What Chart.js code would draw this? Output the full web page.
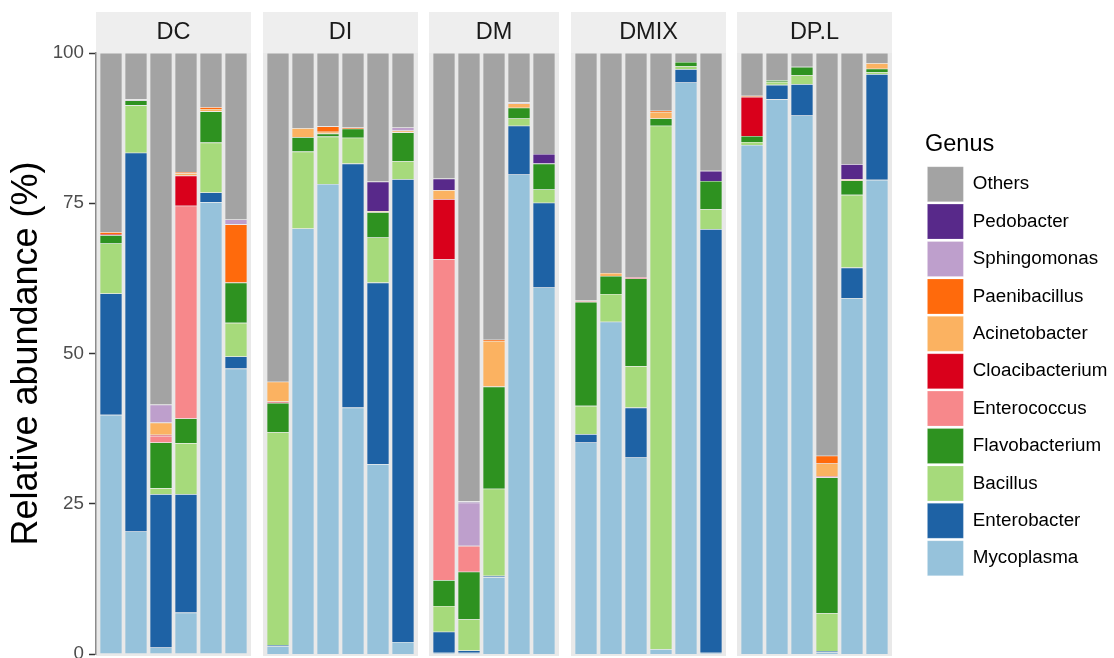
<!DOCTYPE html>
<html>
<head>
<meta charset="utf-8">
<title>Relative abundance by genus</title>
<script src="https://cdn.jsdelivr.net/npm/chart.js@4.4.1/dist/chart.umd.min.js"></script>
<style>
  body { margin: 0; width: 1114px; height: 658px; overflow: hidden; background: #ffffff; position: relative; }
  .facet { position: absolute; top: 12px; }
  .facet canvas { display: block; }
</style>
</head>
<body>
<div class="facet" style="left:0px"><canvas id="facet-DC" width="251" height="660" style="width:251px;height:660px"></canvas></div>
<div class="facet" style="left:263px"><canvas id="facet-DI" width="155" height="644" style="width:155px;height:644px"></canvas></div>
<div class="facet" style="left:429px"><canvas id="facet-DM" width="130" height="644" style="width:130px;height:644px"></canvas></div>
<div class="facet" style="left:571px"><canvas id="facet-DMIX" width="155" height="644" style="width:155px;height:644px"></canvas></div>
<div class="facet" style="left:737px"><canvas id="facet-DP.L" width="376" height="644" style="width:376px;height:644px"></canvas></div>

<script>
// Facets and samples
const facetNames = ['DC', 'DI', 'DM', 'DMIX', 'DP.L'];
const sampleNames = [
  'DC1', 'DC2', 'DC3', 'DC4', 'DC5', 'DC6',
  'DI1', 'DI2', 'DI3', 'DI4', 'DI5', 'DI6',
  'DM1', 'DM2', 'DM3', 'DM4', 'DM5',
  'DMIX1', 'DMIX2', 'DMIX3', 'DMIX4', 'DMIX5', 'DMIX6',
  'DPL1', 'DPL2', 'DPL3', 'DPL4', 'DPL5', 'DPL6'
];
const sampleFacet = [
  'DC', 'DC', 'DC', 'DC', 'DC', 'DC',
  'DI', 'DI', 'DI', 'DI', 'DI', 'DI',
  'DM', 'DM', 'DM', 'DM', 'DM',
  'DMIX', 'DMIX', 'DMIX', 'DMIX', 'DMIX', 'DMIX',
  'DP.L', 'DP.L', 'DP.L', 'DP.L', 'DP.L', 'DP.L'
];

// Relative abundance (%) per genus, one value per sample (same order as sampleNames)
const mycoplasma      = [39.8, 20.4, 1.1, 6.9, 75.2, 47.5,  1.3, 70.8, 78.2, 41.0, 31.6, 2.0,  0.2, 0.2, 12.8, 79.8, 61.0,  35.2, 55.3, 32.7, 0.8, 95.1, 0.2,  84.7, 92.3, 89.6, 0.3, 59.2, 78.9];
const enterobacter    = [20.2, 63.0, 25.5, 19.7, 1.6, 2.0,  0.2, 0, 0, 40.6, 30.2, 77.0,  3.5, 0.4, 0.2, 8.1, 14.1,  1.4, 0, 8.3, 0, 2.2, 70.5,  0, 2.4, 5.2, 0.2, 5.1, 17.6];
const bacillus        = [8.3, 7.9, 1.0, 8.5, 8.3, 5.6,  35.4, 12.8, 7.9, 4.3, 7.5, 3.0,  4.3, 5.2, 14.5, 1.2, 2.2,  4.7, 4.6, 6.9, 87.1, 0.5, 3.3,  0.5, 0.5, 1.5, 6.3, 12.1, 0.3];
const flavobacterium  = [1.4, 0.8, 7.6, 4.1, 5.2, 6.7,  4.9, 2.4, 0.5, 1.5, 4.2, 4.8,  4.3, 7.9, 17.0, 1.8, 4.3,  17.3, 3.0, 14.6, 1.2, 0.7, 4.7,  1.0, 0.3, 1.4, 22.6, 2.4, 0.6];
const enterococcus    = [0, 0, 1.1, 35.4, 0, 0,  0, 0, 0, 0, 0, 0,  53.4, 4.3, 0, 0, 0,  0.2, 0, 0, 0, 0, 0,  0, 0, 0, 0, 0, 0];
const cloacibacterium = [0.2, 0, 0.2, 5.0, 0, 0,  0.2, 0, 0, 0, 0, 0,  10.0, 0, 0, 0, 0,  0, 0, 0.2, 0, 0, 0,  6.5, 0, 0, 0.2, 0, 0];
const acinetobacter   = [0, 0, 2.0, 0.4, 0.4, 0,  3.3, 1.5, 0.3, 0, 0.2, 0.3,  1.5, 0, 7.6, 0.7, 0,  0, 0.5, 0, 1.1, 0, 0,  0, 0, 0, 2.1, 0.2, 0.9];
const paenibacillus   = [0.3, 0, 0, 0.2, 0.3, 9.7,  0, 0, 0.9, 0.2, 0, 0,  0, 0, 0.2, 0, 0,  0, 0, 0, 0.2, 0, 0,  0.2, 0, 0, 1.3, 0, 0];
const sphingomonas    = [0, 0.2, 3.0, 0, 0, 0.8,  0, 0, 0, 0, 0, 0.5,  0, 7.2, 0, 0.2, 0,  0, 0, 0, 0, 0, 0,  0, 0, 0, 0, 0, 0];
const pedobacter      = [0, 0, 0, 0, 0, 0,  0, 0, 0, 0, 4.9, 0,  1.9, 0.2, 0, 0, 1.6,  0, 0, 0, 0, 0, 1.7,  0, 0, 0, 0, 2.5, 0];
const others          = [29.8, 7.7, 58.5, 19.8, 9.0, 27.7,  54.7, 12.5, 12.2, 12.4, 21.4, 12.4,  20.9, 74.6, 47.7, 8.2, 16.8,  41.2, 36.6, 37.3, 9.6, 1.5, 19.6,  7.1, 4.5, 2.3, 67.0, 18.5, 1.7];

// stacking order: first one sits at the bottom of each bar
const genusNames = ['Mycoplasma', 'Enterobacter', 'Bacillus', 'Flavobacterium', 'Enterococcus',
  'Cloacibacterium', 'Acinetobacter', 'Paenibacillus', 'Sphingomonas', 'Pedobacter', 'Others'];
const genusValues = [mycoplasma, enterobacter, bacillus, flavobacterium, enterococcus,
  cloacibacterium, acinetobacter, paenibacillus, sphingomonas, pedobacter, others];
const genusColors = ['#96C2DB', '#1E62A5', '#A6DA7B', '#2E9220', '#F7888B',
  '#D9001B', '#FBB261', '#FF6A0C', '#BE9FCC', '#58298A', '#A3A3A3'];

const yTicks = [0, 25, 50, 75, 100];

Chart.defaults.font.family = "'Liberation Sans', Arial, Helvetica, sans-serif";
Chart.defaults.animation = false;

// grey strip + grey panel behind every facet
const panelBackground = {
  id: 'panelBackground',
  beforeDraw(chart) {
    const { ctx, chartArea } = chart;
    const w = chartArea.right - chartArea.left;
    ctx.save();
    ctx.fillStyle = '#EEEEEE';
    ctx.fillRect(chartArea.left, 0, w, chartArea.top);
    ctx.fillStyle = '#E9E9E9';
    ctx.fillRect(chartArea.left, chartArea.top, w, chartArea.bottom - chartArea.top + 2);
    ctx.restore();
  }
};

function buildDatasets(facet) {
  const idx = [];
  sampleFacet.forEach((f, i) => { if (f === facet) idx.push(i); });
  const datasets = genusNames.map((g, k) => ({
    label: g,
    data: idx.map((s, j) => ({ x: j, y: genusValues[k][s] })),
    backgroundColor: genusColors[k],
    borderColor: 'rgba(255,255,255,0.35)',
    borderWidth: 0.6,
    barPercentage: 0.9,
    categoryPercentage: 1.0
  }));
  return { datasets, count: idx.length };
}

function createFacetChart(facet, pos) {
  const { datasets, count } = buildDatasets(facet);
  const first = pos === 0;
  const last = pos === facetNames.length - 1;

  const scales = {
    // ggplot style: 0.6 of a bar slot on each side of the panel
    x: { type: 'linear', display: false, stacked: true, offset: false, min: -0.6, max: count - 0.4 },
    y: {
      stacked: true, min: 0, max: 100,
      display: first,
      afterBuildTicks: (s) => { s.ticks = yTicks.map(v => ({ value: v })); },
      ticks: { color: '#4D4D4D', font: { size: 18.8 }, padding: 5 },
      grid: { display: true, drawOnChartArea: false, drawTicks: true, tickLength: 7, tickColor: '#333333', tickWidth: 1.5 },
      border: { display: true, color: '#8C8C8C', width: 1.5 },
      title: {
        display: true,
        text: 'Relative abundance (%)',
        color: '#000000',
        font: { size: 36 },
        padding: { top: 5, bottom: 0 }
      }
    }
  };
  if (first) {
    scales.y.afterFit = (s) => { s.width = 96; };
  }
  if (last) {
    // empty space between the last panel and the legend
    scales.gap = {
      type: 'linear', position: 'right', display: true,
      ticks: { display: false }, grid: { display: false }, border: { display: false },
      afterFit: (s) => { s.width = 33; }
    };
  }

  new Chart(document.getElementById('facet-' + facet), {
    type: 'bar',
    data: { datasets },
    options: {
      responsive: false,
      layout: { padding: { bottom: first ? 18 : 2 } },
      scales,
      plugins: {
        tooltip: { enabled: false },
        title: {
          display: true,
          text: facet,
          fullSize: false,
          color: '#1A1A1A',
          font: { size: 23.5, weight: 'normal', lineHeight: 1.2 },
          padding: { top: 6.4, bottom: 6.4 }
        },
        legend: {
          display: last,
          position: 'right',
          reverse: true,
          maxWidth: 188,
          title: {
            display: true,
            text: 'Genus',
            position: 'start',
            color: '#000000',
            font: { size: 23.5, lineHeight: 1.2 },
            padding: { top: 45.35, bottom: 2.85 }
          },
          labels: {
            boxWidth: 36,
            boxHeight: 35,
            padding: 2.4,
            color: '#000000',
            font: { size: 18.8 }
          }
        }
      }
    },
    plugins: [panelBackground]
  });
}

facetNames.forEach((f, i) => createFacetChart(f, i));
</script>
</body>
</html>
